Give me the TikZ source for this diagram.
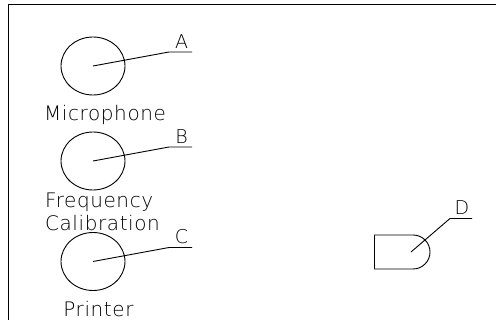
\documentclass[tikz,border=0pt]{standalone}
\usetikzlibrary{shapes.geometric}
\usepackage{fontspec}
\setmainfont{DejaVu Sans ExtraLight}[LetterSpace=3]
\begin{document}
\begin{tikzpicture}[x=1pt,y=-1pt,
  ln/.style={draw=black,line width=0.9pt},
  lab/.style={font=\fontsize{20}{23}\selectfont,inner sep=0pt,text=black,align=center},
  tag/.style={font=\fontsize{19}{21}\selectfont,inner sep=0pt,text=black}]
\useasboundingbox (0,0) rectangle (496,320);
\draw[ln,line width=1pt] (8.5,320) -- (8.5,4.5) -- (496,4.5);
\foreach \n/\y/\t in {a/66/A,b/161/B,c/261.5/C}{
  \node[ln,draw,ellipse,minimum width=64pt,minimum height=58pt,inner sep=0pt] (\n) at (93,\y) {};
  \coordinate (\n c) at (93,\y);
  \coordinate (\n k) at (169,\y-14);
  \coordinate (\n e) at (192,\y-14);
  \draw[ln] (\n c) -- (\n k) -- (\n e);
  \node[tag] (\n t) at (181.5,\y-24.5) {\t};
}
\node[lab] (mic) at (105,115) {Microphone};
\node[lab,align=left] (freq) at (102.5,211.5) {Frequency\\Calibration};
\node[lab] (prn) at (98.5,309) {Printer};
\draw[ln] (413,235) -- (374.5,235) -- (374.5,269) -- (413,269) .. controls (422.4,269) and (430,261.4) .. (430,252) .. controls (430,242.6) and (422.4,235) .. (413,235);
\coordinate (ds) at (411,252);
\coordinate (dk) at (450,218.5);
\coordinate (de) at (472,218.5);
\draw[ln] (ds) -- (dk) -- (de);
\node[tag] (dt) at (462,208) {D};
\end{tikzpicture}
\end{document}
